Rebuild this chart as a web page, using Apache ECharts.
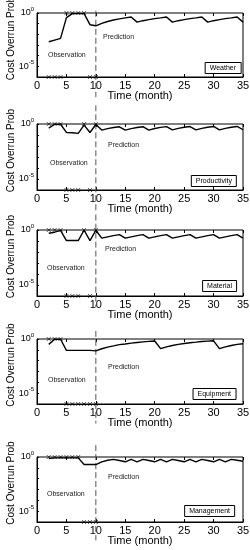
<!DOCTYPE html>
<html><head><meta charset="utf-8">
<script src="https://cdn.jsdelivr.net/npm/echarts@6/dist/echarts.min.js"></script>
<style>html,body{margin:0;padding:0;background:#fff}#c{width:250px;height:550px}</style>
</head><body><div id="c"></div>
<script>
// ---- data ----
const months = [2,3,4,5,6,7,8,9,10,11,12,13,14,15,16,17,18,19,20,21,22,23,24,25,26,27,28,29,30,31,32,33,34,35];
const panelNames = ['Weather','Productivity','Material','Equipment','Management'];
const weather = [0.002,0.0029,0.0042,0.37,0.87,0.87,0.87,0.08,0.063,0.105,0.16,0.22,0.28,0.35,0.42,0.14,0.19,0.24,0.30,0.35,0.42,0.14,0.19,0.24,0.30,0.35,0.42,0.14,0.19,0.24,0.30,0.35,0.42,0.14];
const productivity = [0.42,0.95,0.95,0.17,0.16,0.14,0.8,0.17,0.9,0.28,0.38,0.48,0.56,0.28,0.38,0.48,0.57,0.28,0.39,0.49,0.58,0.29,0.40,0.5,0.59,0.29,0.4,0.5,0.6,0.29,0.4,0.5,0.6,0.3];
const material = [0.5,0.63,0.93,0.11,0.11,0.11,0.95,0.11,0.95,0.18,0.24,0.31,0.38,0.18,0.24,0.31,0.38,0.18,0.24,0.31,0.38,0.18,0.24,0.31,0.38,0.18,0.24,0.31,0.38,0.18,0.24,0.31,0.38,0.18];
const equipment = [0.32,0.95,0.95,0.09,0.09,0.09,0.09,0.09,0.08,0.126,0.18,0.23,0.3,0.35,0.42,0.48,0.54,0.6,0.66,0.13,0.19,0.25,0.32,0.38,0.45,0.51,0.58,0.63,0.68,0.13,0.19,0.25,0.32,0.36];
const management = [0.7,0.83,0.83,0.83,0.83,0.83,0.2,0.2,0.2,0.35,0.5,0.6,0.47,0.36,0.6,0.36,0.6,0.47,0.36,0.6,0.36,0.6,0.47,0.36,0.6,0.36,0.6,0.47,0.36,0.6,0.36,0.6,0.5,0.4];
const seriesValues = [weather, productivity, material, equipment, management];
// observed months (cross markers) at top (overrun) and bottom (no overrun)
const topCrosses = [[5,6,7,8],[2,3,4,8,10],[2,3,4,8,10],[2,3,4],[2,3,4,5,6,7]];
const bottomCrosses = [[2,3,4,9,10],[5,6,7,9],[5,6,7,9],[5,6,7,8,9,10],[8,9,10]];
const currentMonth = 10;
const dashTop = [1.6,50,25,5.6,12.6];
const dashBottom = [1.3e-8,1e-8,1e-7,1.6e-8,2e-8];
const xTicks = [0,5,10,15,20,25,30,35];
const yMin = 1e-6, yMax = 1;

// ---- layout ----
const gridTops = [13,124,230,339,457];
const gridHeights = [64,66,66,65,65];
const legendPos = [[9,62],[13,175],[13,280],[14,388],[15,505]];
const obsPos = [[48,51],[50,159],[47,264],[48,376],[47,490]];
const predPos = [[103,33],[108,141],[105,245],[108,363],[108,473]];

const font = 'Liberation Sans, Arial, sans-serif';
const grids=[], xAxes=[], yAxes=[], series=[], titles=[];
const crossSym = 'path://M0,0L10,10M10,0L0,10';
for (let i=0;i<5;i++){
  grids.push({left:37,right:7,top:gridTops[i],height:gridHeights[i],containLabel:false,outerBoundsMode:'none',
    show:true,borderColor:'#000',borderWidth:1,backgroundColor:'#fff'});
  xAxes.push({type:'value',gridIndex:i,min:xTicks[0],max:xTicks[xTicks.length-1],interval:5,position:'bottom',
    axisLine:{show:true,lineStyle:{color:'#000',width:1}},
    axisTick:{inside:true,length:3,lineStyle:{color:'#000'}},
    splitLine:{show:false},
    axisLabel:{fontSize:11,color:'#000',margin:3,fontFamily:font,showMinLabel:true,showMaxLabel:true,hideOverlap:false},
    name:'Time (month)',nameLocation:'middle',nameGap:13,nameMoveOverlap:false,
    nameTextStyle:{fontSize:11,color:'#000',fontFamily:font}});
  xAxes.push({type:'value',gridIndex:i,min:0,max:35,interval:5,position:'top',
    axisLine:{show:false},axisTick:{inside:true,length:3,lineStyle:{color:'#000'}},
    axisLabel:{show:false},splitLine:{show:false}});
  yAxes.push({type:'log',gridIndex:i,min:yMin,max:yMax,logBase:10,
    axisLine:{show:true,lineStyle:{color:'#000',width:1}},
    axisTick:{show:true,inside:true,length:2,lineStyle:{color:'#000'}},
    splitLine:{show:false},minorTick:{show:false},
    axisLabel:{margin:3,color:'#000',fontFamily:font,showMinLabel:true,showMaxLabel:true,
      formatter:function(v){const e=Math.round(Math.log10(v)); if(e===0||e===-5) return '{n|10}{s|'+e+'}'; return '';},
      rich:{n:{fontSize:9,color:'#000',fontFamily:font},s:{fontSize:6,color:'#000',fontFamily:font,padding:[0,0,7,0]}}},
    name:'Cost Overrun Prob',nameLocation:'middle',nameGap:21,nameMoveOverlap:false,
    nameTextStyle:{fontSize:10,color:'#000',fontFamily:font,padding:[0,0,0,13]}});
  const vals = seriesValues[i];
  series.push({type:'line',xAxisIndex:2*i,yAxisIndex:i,data:months.map((m,k)=>[m,vals[k]]),
    symbol:'none',lineStyle:{color:'#000',width:1.4},silent:true,z:3});
  series.push({type:'scatter',xAxisIndex:2*i,yAxisIndex:i,data:topCrosses[i].map(m=>[m,yMax]),
    symbol:crossSym,symbolSize:4,clip:false,itemStyle:{color:'rgba(0,0,0,0)',borderColor:'#000',borderWidth:0.8},z:4});
  series.push({type:'scatter',xAxisIndex:2*i,yAxisIndex:i,data:bottomCrosses[i].map(m=>[m,yMin]),
    symbol:crossSym,symbolSize:4,clip:false,itemStyle:{color:'rgba(0,0,0,0)',borderColor:'#000',borderWidth:0.8},z:4});
  series.push({type:'line',xAxisIndex:2*i,yAxisIndex:i,data:[[currentMonth,dashTop[i]],[currentMonth,dashBottom[i]]],
    symbol:'none',clip:false,lineStyle:{color:'#555',width:1,type:[6,3]},silent:true,z:2});
  titles.push({text:panelNames[i],right:legendPos[i][0],top:legendPos[i][1],padding:[2,5],
    borderColor:'#000',borderWidth:1,backgroundColor:'#fff',
    textStyle:{fontSize:7,fontWeight:'normal',color:'#000',fontFamily:font,lineHeight:8}});
  titles.push({text:'Observation',left:obsPos[i][0],top:obsPos[i][1],padding:0,
    textStyle:{fontSize:7,fontWeight:'normal',color:'#222',fontFamily:font,lineHeight:9}});
  titles.push({text:'Prediction',left:predPos[i][0],top:predPos[i][1],padding:0,
    textStyle:{fontSize:7,fontWeight:'normal',color:'#222',fontFamily:font,lineHeight:9}});
}
const chart = echarts.init(document.getElementById('c'),null,{renderer:'canvas'});
chart.setOption({animation:false,backgroundColor:'#fff',textStyle:{fontFamily:font},
  title:titles,grid:grids,xAxis:xAxes,yAxis:yAxes,series:series});
</script></body></html>
